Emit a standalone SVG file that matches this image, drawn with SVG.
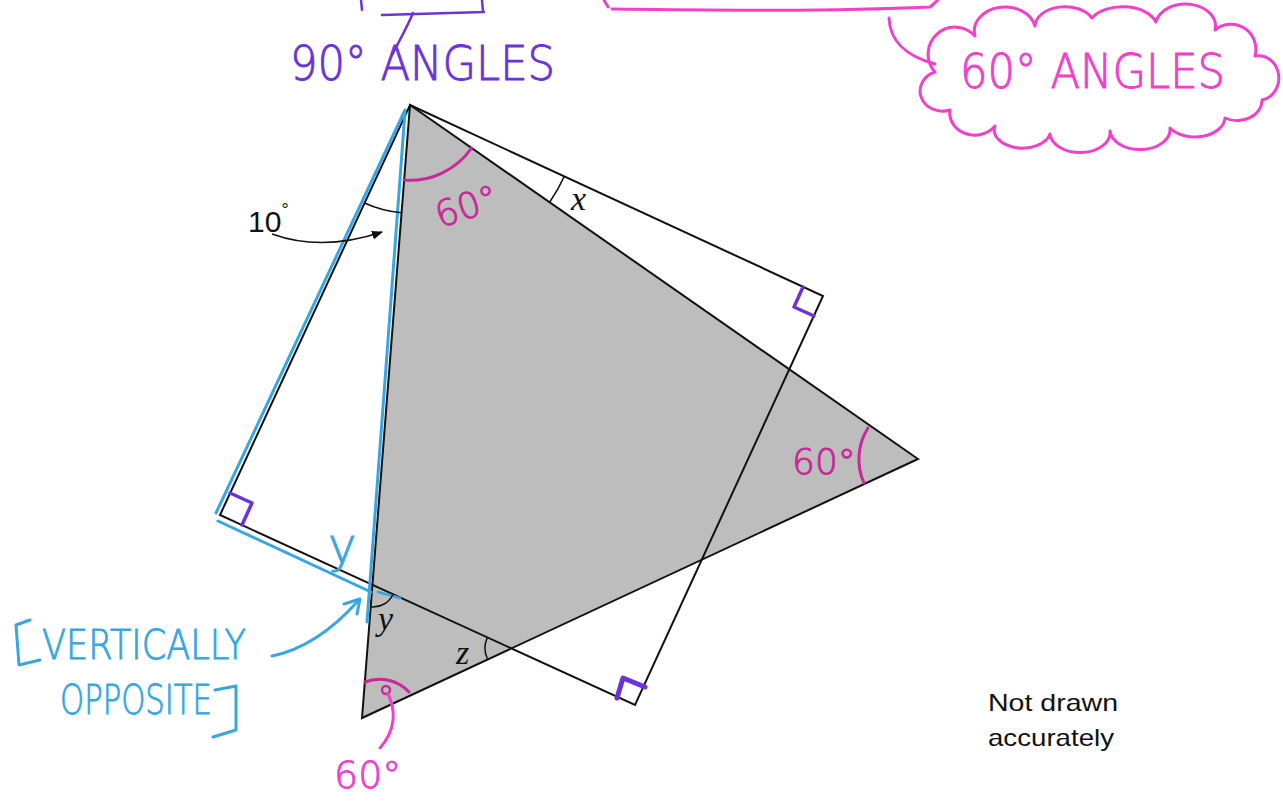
<svg xmlns="http://www.w3.org/2000/svg" width="1283" height="802" viewBox="0 0 1283 802">
<style>
.edge{fill:none;stroke:#111;stroke-width:2;stroke-linejoin:miter}
.thin{fill:none;stroke:#111;stroke-width:1.5}
.blue{fill:none;stroke:#38a6e0;stroke-width:3;stroke-linecap:round;stroke-linejoin:round}
.purple{fill:none;stroke:#6a34d8;stroke-width:3.5;stroke-linecap:round;stroke-linejoin:round}
.pink{fill:none;stroke:#f040cc;stroke-width:3;stroke-linecap:round;stroke-linejoin:round}
.mag{fill:none;stroke:#c8289a;stroke-width:3;stroke-linecap:round}
.hand{font-family:"DejaVu Sans","Liberation Sans",sans-serif;font-weight:200;stroke-width:0.9}
.lbl{font-family:"Liberation Serif",serif;font-style:italic;font-size:34px;fill:#111}
.sans{font-family:"Liberation Sans","Open Sans",sans-serif;fill:#111}
</style>
<defs>
<marker id="ah" viewBox="0 0 10 10" refX="9" refY="5" markerWidth="7" markerHeight="7" orient="auto"><path d="M0,1 L10,5 L0,9 Z" fill="#111"/></marker>
</defs>
<rect width="1283" height="802" fill="#fff"/>

<g id="top-notes">
<path class="purple" d="M361,0 L362,10 M382,15 L484,12 M482,0 L483,12" style="stroke-width:2.5"/>
<path class="purple" d="M413,13 C408,25 400,40 392,55" style="stroke-width:2.5"/>
<path class="pink" d="M604,0 L608,7 M612,9 C700,10 820,12 930,7 L938,0"/>
<path class="pink" d="M889,18 C890,42 906,56 935,64"/>
</g>

<g id="equilateral-triangle">
<polygon points="410,105 918,459 362,718" fill="#bdbdbd" stroke="#111" stroke-width="2"/>
</g>

<g id="rectangle">
<polygon class="edge" points="410,105 823,296 635,705 220,515"/>
</g>

<g id="blue-highlights">
<path class="blue" d="M405,110 L216,513"/>
<path class="blue" d="M405,112 L367,622"/>
<path class="blue" d="M218,521 L371,592"/>
<path class="blue" d="M378,592 L400,598" style="stroke-width:2.5"/>
</g>

<g id="angle-marks">
<path class="thin" d="M364.6,203 A108,108 0 0 0 401.6,212.7"/>
<path class="thin" d="M564.3,176.4 A170,170 0 0 1 549.6,202.2"/>
<path class="thin" d="M371.3,607 A22,22 0 0 0 393,594.2"/>
<path class="thin" d="M487.3,637.6 A25,25 0 0 0 487.4,658.7"/>
<text class="lbl" x="571" y="210">x</text>
<text class="lbl" x="378" y="630">y</text>
<text class="lbl" x="456" y="664">z</text>
</g>

<g id="label-10">
<text class="sans" x="248" y="232" font-size="30">10<tspan dy="-16" font-size="18">°</tspan></text>
<path d="M272,234 Q322,252 382,232" fill="none" stroke="#111" stroke-width="1.6" marker-end="url(#ah)"/>
</g>

<g id="right-angles">
<path class="purple" d="M230,493 L252,503 L242,525"/>
<path class="purple" d="M803,287 L794,307 L814,316"/>
<path class="purple" d="M617,698 L623,678 L645,687" style="stroke-width:5"/>
</g>

<g id="sixty-marks">
<path class="mag" d="M404,180 A75,75 0 0 0 471.6,148"/>
<text x="440" y="228" transform="rotate(-18 440 228)" class="hand" font-size="36" fill="#c8289a" stroke="#c8289a">60°</text>
<path class="mag" d="M868,428 A58,58 0 0 0 864,483"/>
<text x="792" y="474" class="hand" font-size="36" fill="#c8289a" stroke="#c8289a">60°</text>
<path class="mag" d="M365,682 A40,40 0 0 1 409,692"/>
<circle cx="386" cy="690" r="4" fill="none" stroke="#c8289a" stroke-width="2.5"/>
<path class="pink" d="M388,694 C396,710 396,730 380,748"/>
<text x="334" y="788" class="hand" font-size="38" fill="#f040cc" stroke="#f040cc">60°</text>
</g>

<g id="note-90">
<text x="290" y="80" class="hand" font-size="48" fill="#6a34d8" stroke="#6a34d8" textLength="265" lengthAdjust="spacingAndGlyphs">90° ANGLES</text>
</g>

<g id="note-60-cloud">
<path class="pink" d="M935,72 A22,22 0 0 1 975,36 A28,22 0 0 1 1035,26 A30,20 0 0 1 1092,18 A35,22 0 0 1 1156,22 A30,22 0 0 1 1215,30 A25,25 0 0 1 1255,56 A20,22 0 0 1 1262,100 A25,20 0 0 1 1225,118 A30,20 0 0 1 1170,128 A30,20 0 0 1 1110,131 A30,20 0 0 1 1050,134 A28,18 0 0 1 995,126 A25,22 0 0 1 950,110 A20,18 0 0 1 935,72 Z"/>
<text x="960" y="88" class="hand" font-size="48" fill="#f040cc" stroke="#f040cc" textLength="265" lengthAdjust="spacingAndGlyphs">60° ANGLES</text>
</g>

<g id="note-vertically-opposite">
<text x="328" y="562" class="hand" font-size="48" fill="#38a6e0" stroke="#38a6e0">y</text>
<path class="blue" d="M30,620 L16,625 L19,665 L40,660"/>
<text x="42" y="659" class="hand" font-size="40" fill="#38a6e0" stroke="#38a6e0" textLength="204" lengthAdjust="spacingAndGlyphs">VERTICALLY</text>
<text x="60" y="714" class="hand" font-size="40" fill="#38a6e0" stroke="#38a6e0" textLength="152" lengthAdjust="spacingAndGlyphs">OPPOSITE</text>
<path class="blue" d="M215,690 L236,686 L236,730 L213,737"/>
<path class="blue" d="M272,656 C302,650 332,630 358,601"/>
<path class="blue" d="M344,604 L360,599 L357,614"/>
</g>

<g id="not-drawn-note">
<text class="sans" x="988" y="711" font-size="24" textLength="130" lengthAdjust="spacingAndGlyphs">Not drawn</text>
<text class="sans" x="988" y="746" font-size="24" textLength="126" lengthAdjust="spacingAndGlyphs">accurately</text>
</g>
</svg>
